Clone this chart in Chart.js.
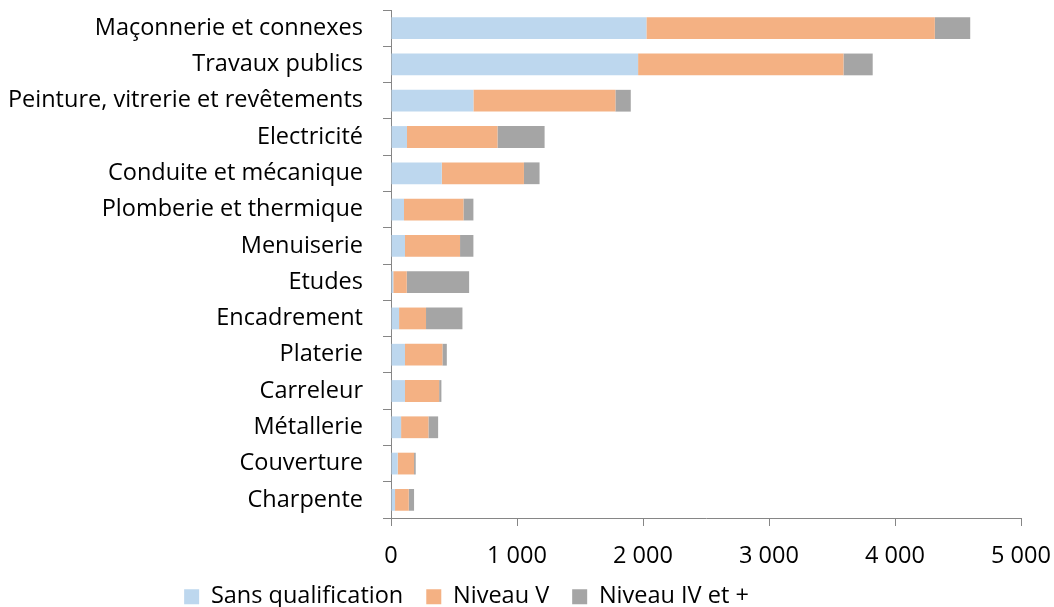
<!DOCTYPE html>
<html>
<head>
<meta charset="utf-8">
<script src="https://cdn.jsdelivr.net/npm/chart.js@4"></script>
<style>
  html, body { margin: 0; padding: 0; background: #fff; }
  #wrap { width: 1054px; height: 607px; }
</style>
</head>
<body>
<div id="wrap"><canvas id="myChart"></canvas></div>
<script>
const labels = ['Maçonnerie et connexes','Travaux publics','Peinture, vitrerie et revêtements','Electricité','Conduite et mécanique','Plomberie et thermique','Menuiserie','Etudes','Encadrement','Platerie','Carreleur','Métallerie','Couverture','Charpente'];

const sansQualification = [2027,1961,654,127,403,103,111,18,64,111,111,80,53,32];
const niveauV = [2289,1630,1127,718,652,472,437,107,214,297,271,217,130,109];
const niveauIV = [281,232,122,374,124,79,106,495,289,35,18,77,13,42];

const xTicks = [0,1000,2000,3000,4000,5000];

function fmt(v) {
  return String(v).replace(/\B(?=(\d{3})+(?!\d))/g, ' ');
}

Chart.defaults.font.family = '"Open Sans", Lato, sans-serif';
Chart.defaults.font.size = 23.5;
Chart.defaults.color = '#000';

// legend sits left of centre in the original, and low on the page
const legendShift = {
  id: 'legendShift',
  afterLayout(chart) {
    const lg = chart.legend;
    lg.left -= 44;
    lg.right -= 44;
    const h = lg.height;
    lg.top = 562;
    lg.bottom = 562 + h;
  }
};

const data = {
  labels: labels,
  datasets: [
    { label: 'Sans qualification', data: sansQualification, backgroundColor: '#BDD7EE' },
    { label: 'Niveau V', data: niveauV, backgroundColor: '#F4B183' },
    { label: 'Niveau IV et +', data: niveauIV, backgroundColor: '#A5A5A5' }
  ]
};

const config = {
  type: 'bar',
  data,
  options: {
    indexAxis: 'y',
    responsive: true,
    maintainAspectRatio: false,
    animation: false,
    barPercentage: 0.6,
    categoryPercentage: 1,
    layout: { padding: { top: 10, right: 33, left: 0, bottom: -13 } },
    scales: {
      x: {
        stacked: true,
        min: 0,
        max: 5000,
        afterBuildTicks(scale) {
          scale.ticks = xTicks.map(v => ({ value: v }));
        },
        afterFit(scale) {
          scale.height = 45.5;
          scale.paddingLeft = 0;
          scale.paddingRight = 0;
        },
        grid: { drawOnChartArea: false, tickLength: 8, color: '#868686' },
        border: { color: '#868686' },
        ticks: { padding: 16, maxRotation: 0, callback: v => fmt(v) }
      },
      y: {
        stacked: true,
        afterFit(scale) {
          scale.width = 391;
          scale.paddingTop = 0;
          scale.paddingBottom = 0;
        },
        grid: { drawOnChartArea: false, offset: true, tickLength: 8, color: '#868686' },
        border: { color: '#868686' },
        ticks: { padding: 20 }
      }
    },
    plugins: {
      legend: {
        position: 'bottom',
        labels: { boxWidth: 15, boxHeight: 15, padding: 23 }
      },
      tooltip: { enabled: false }
    }
  },
  plugins: [legendShift]
};

const myChart = new Chart(
  document.getElementById('myChart'),
  config
);
</script>
</body>
</html>
